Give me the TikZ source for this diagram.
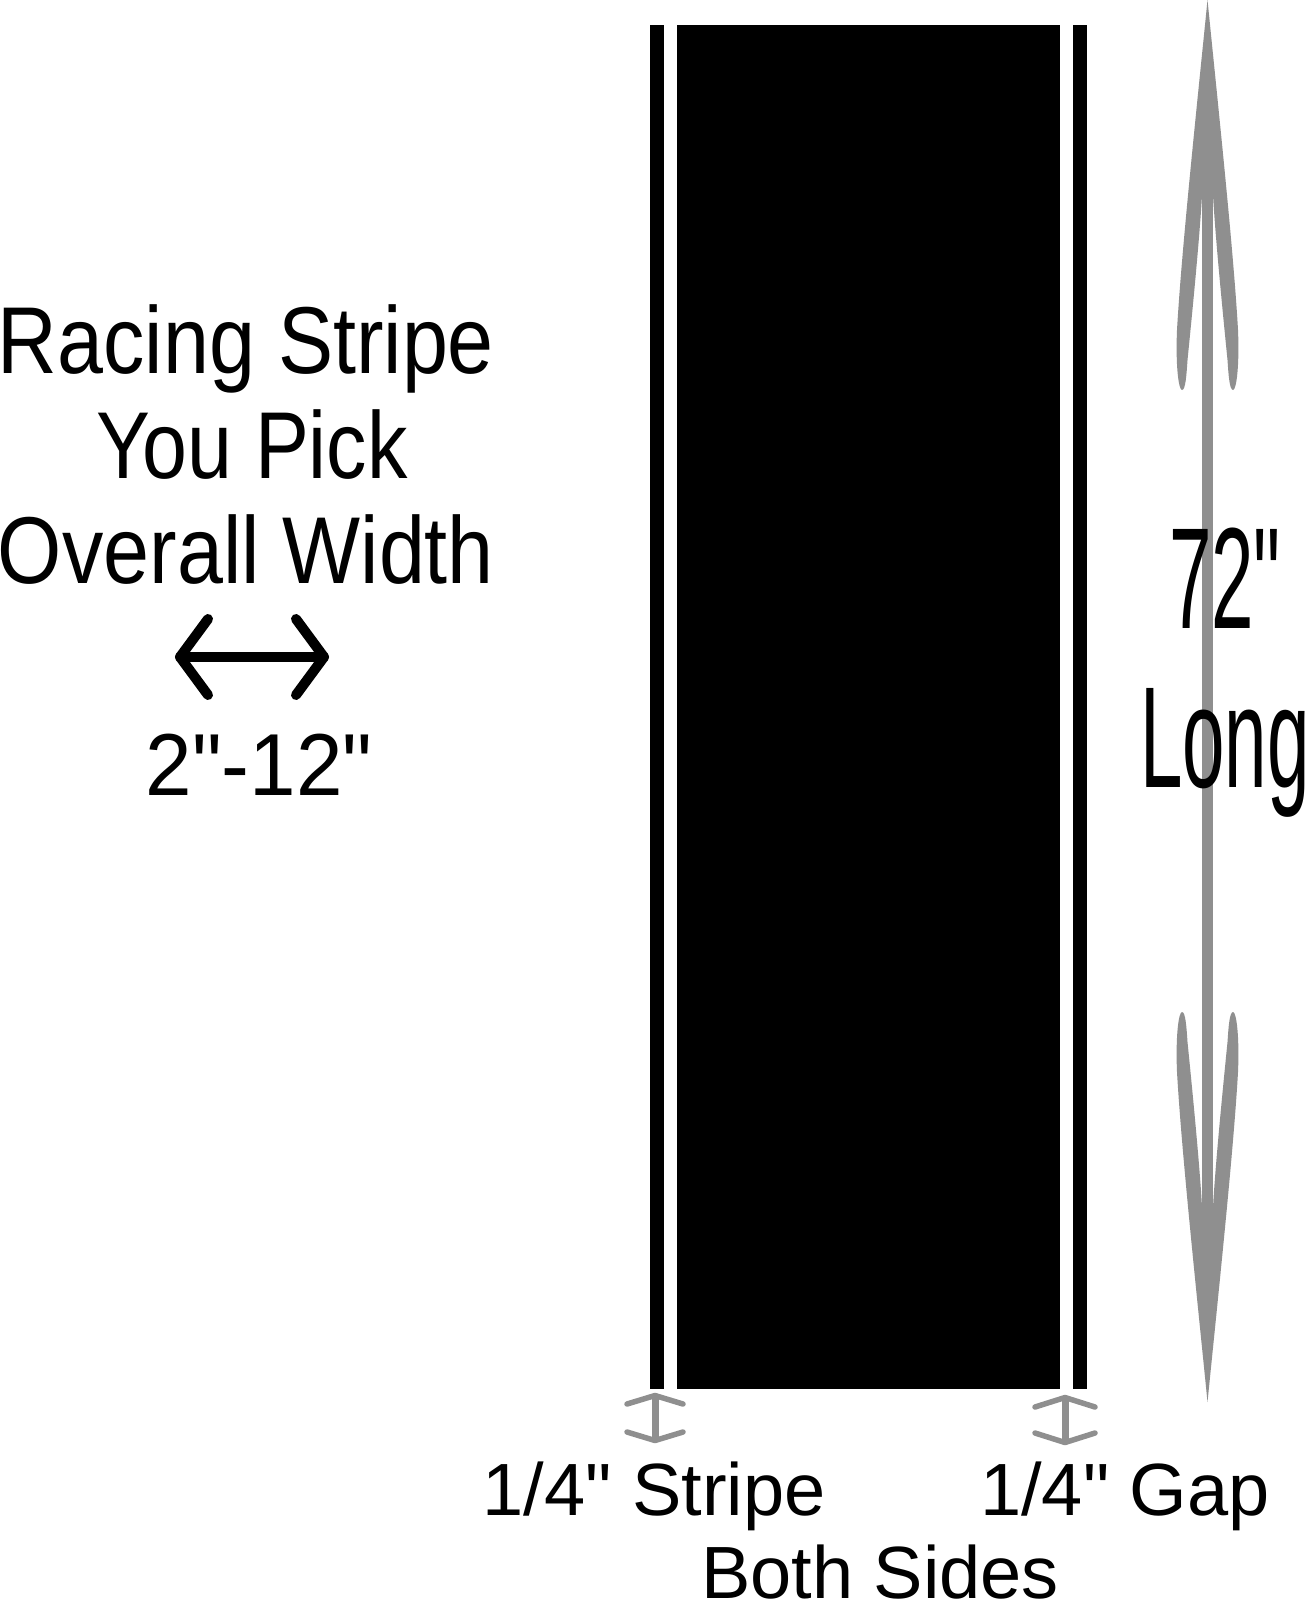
\documentclass[tikz,border=0pt]{standalone}
\usepackage{fontspec}
\newfontfamily\arialfont{Liberation Sans}
\definecolor{argray}{RGB}{143,143,143}
\tikzset{
  lbl/.style={anchor=base, inner sep=0pt, outer sep=0pt, text=black},
  lefttxt/.style={lbl, font=\arialfont\fontsize{95}{95}\selectfont},
  dimtxt/.style={lbl, font=\arialfont\fontsize{88}{88}\selectfont},
  longtxt/.style={lbl, font=\arialfont\fontsize{144}{144}\selectfont},
  bottxt/.style={lbl, font=\arialfont\fontsize{74}{74}\selectfont},
  stripefill/.style={fill=black},
  blkarrow/.style={draw=black, line width=10pt, line cap=round, line join=round},
  grayshaft/.style={draw=argray, line width=11pt},
  smallshaft/.style={draw=argray, line width=7pt},
  smallbarb/.style={draw=argray, line width=5.5pt, line cap=round, line join=round}
}
\newcommand\longhead{%
  \fill[argray] (\cx,0) .. controls (\cx-10,100) and (\cx-26,250) .. (\cx-30.5,330)
   .. controls (\cx-32,365) and (\cx-29,390) .. (\cx-25.5,390)
   .. controls (\cx-22,390) and (\cx-21,375) .. (\cx-20,360)
   .. controls (\cx-16,320) and (\cx-8,240) .. (\cx-5.5,195)
   -- (\cx+5.5,195)
   .. controls (\cx+8,240) and (\cx+16,320) .. (\cx+20,360)
   .. controls (\cx+21,375) and (\cx+22,390) .. (\cx+25.5,390)
   .. controls (\cx+29,390) and (\cx+32,365) .. (\cx+30.5,330)
   .. controls (\cx+26,250) and (\cx+10,100) .. (\cx,0) -- cycle;}
\begin{document}
\begin{tikzpicture}[x=1pt,y=-1pt]
\useasboundingbox (0,0) rectangle (1306,1600);
\fill[white] (0,0) rectangle (1306,1600);
% stripes
\fill[stripefill] (650,25) rectangle (664,1389);
\fill[stripefill] (677,25) rectangle (1060,1389);
\fill[stripefill] (1073,25) rectangle (1087,1389);
% long gray double arrow
\def\cx{1207.5}
\coordinate (ltop) at (\cx,190);
\coordinate (lbot) at (\cx,1212);
\draw[grayshaft] (ltop) -- (lbot);
\longhead
\begin{scope}[shift={(0,1402)}, yscale=-1]
\longhead
\end{scope}
% small gray arrows
\coordinate (sa1) at (655,1396);
\coordinate (sa2) at (655,1440);
\draw[smallshaft] (sa1) -- (sa2);
\draw[smallbarb] (627,1404) -- (655,1395.5) -- (683,1404);
\draw[smallbarb] (627,1432) -- (655,1440.5) -- (683,1432);
\coordinate (sb1) at (1065,1398);
\coordinate (sb2) at (1065,1442);
\draw[smallshaft] (sb1) -- (sb2);
\draw[smallbarb] (1035,1407) -- (1065,1397.5) -- (1095,1407);
\draw[smallbarb] (1035,1433) -- (1065,1442.5) -- (1095,1433);
% left texts
\node[lefttxt] (t1) at (246,373) {\scalebox{0.87}[1]{Racing Stripe}};
\node[lefttxt] (t2) at (252,478) {\scalebox{0.85}[1]{You Pick}};
\node[lefttxt] (t3) at (246,583) {\scalebox{0.87}[1]{Overall Width}};
\coordinate (wa) at (180,657);
\coordinate (wb) at (324,657);
\draw[blkarrow] (wa) -- (wb);
\draw[blkarrow] (208,619) -- (wa) -- (208,695);
\draw[blkarrow] (296,619) -- (wb) -- (296,695);
\node[dimtxt] (t4) at (259,795) {\scalebox{0.95}[1]{2"-12"}};
% right texts
\node[longtxt] (t5) at (1225,628) {\scalebox{0.53}[1]{72"}};
\node[longtxt] (t6) at (1225,787) {\scalebox{0.53}[1]{Long}};
% bottom texts
\node[bottxt] (t7) at (654,1515) {1/4" Stripe};
\node[bottxt] (t8) at (1125,1515) {1/4" Gap};
\node[bottxt] (t9) at (880,1598) {Both Sides};
\end{tikzpicture}
\end{document}
